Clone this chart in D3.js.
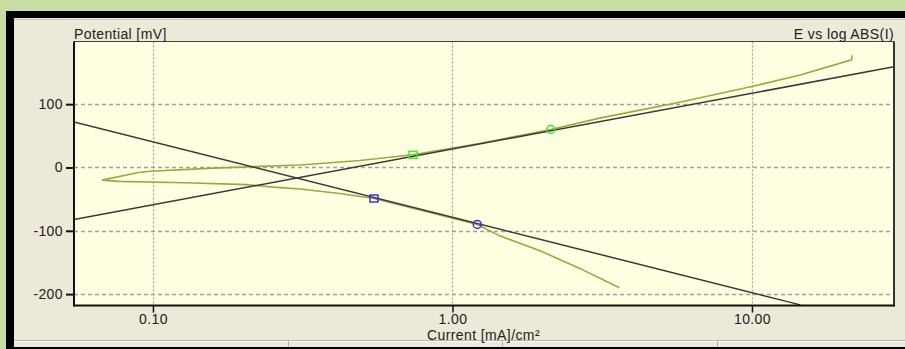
<!DOCTYPE html>
<html>
<head>
<meta charset="utf-8">
<script src="https://cdn.jsdelivr.net/npm/d3@7"></script>
<style>
  body { margin: 0; padding: 0; background: #c8dca4; }
  svg { display: block; }
  text { font-family: "Liberation Sans", Arial, sans-serif; fill: #222; letter-spacing: 0.4px; }
</style>
</head>
<body>
<svg id="chart"></svg>
<script>
// measured scan, current in mA/cm2 and potential in mV
const scanCurrent = [3.61, 2.65, 1.95, 1.44, 1.21, 0.84, 0.547, 0.42, 0.31, 0.252, 0.206, 0.128, 0.0766, 0.0676,
                     0.0895, 0.098, 0.159, 0.206, 0.31, 0.491, 0.738, 1.23, 2.13, 3.1, 5.73, 10.0, 14.5, 21.5, 21.6];
const scanPotential = [-190, -159, -131, -108, -90, -71, -49, -41, -34, -31, -27, -24, -22, -20,
                       -8, -6, -1, 1, 4, 11, 20, 38, 60, 78, 103, 128, 146, 170, 177];

// tafel fits
const anodicCurrent = [0.0545, 29.8];
const anodicPotential = [-82, 159];
const cathodicCurrent = [0.0545, 14.5];
const cathodicPotential = [72, -217];

// fit region markers
const anodicMarkCurrent = [0.738, 2.13];
const anodicMarkPotential = [20, 60];
const cathodicMarkCurrent = [0.547, 1.21];
const cathodicMarkPotential = [-49, -90];

const xTicks = [0.1, 1, 10];
const xTickLabels = ['0.10', '1.00', '10.00'];
const yTicks = [100, 0, -100, -200];

const width = 905, height = 349;
const plotLeft = 74, plotRight = 894, plotTop = 41.5, plotBottom = 305.5;

function zipPts(xs, ys) {
    return xs.map((d, i) => [d, ys[i]]);
}

let svg = d3.select('#chart').attr('width', width).attr('height', height);

// window frame
svg.append('rect').attr('x', 6).attr('y', 11).attr('width', width - 6).attr('height', height - 11).attr('fill', '#000');
svg.append('rect').attr('x', 14).attr('y', 18).attr('width', width - 14).attr('height', 329).attr('fill', '#ece9d8');
svg.append('line').attr('x1', 14).attr('x2', width).attr('y1', 19.5).attr('y2', 19.5).attr('stroke', '#c9c6b8');
// status bar
svg.append('line').attr('x1', 14).attr('x2', width).attr('y1', 340.5).attr('y2', 340.5).attr('stroke', '#b8b5a6');
svg.append('line').attr('x1', 14).attr('x2', width).attr('y1', 341.5).attr('y2', 341.5).attr('stroke', '#fff');
[288.5, 502.5, 717.5].forEach((x) => {
    svg.append('line').attr('x1', x).attr('x2', x).attr('y1', 341).attr('y2', 347).attr('stroke', '#b8b5a6');
});

let x = d3.scaleLog().domain([0.0545, 29.8]).range([plotLeft, plotRight]);
let y = d3.scaleLinear().domain([-218, 199]).range([plotBottom, plotTop]);

svg.append('rect')
    .attr('x', plotLeft).attr('y', plotTop)
    .attr('width', plotRight - plotLeft).attr('height', plotBottom - plotTop)
    .attr('fill', '#ffffe2');

svg.append('defs').append('clipPath').attr('id', 'clip')
    .append('rect')
    .attr('x', plotLeft).attr('y', plotTop)
    .attr('width', plotRight - plotLeft).attr('height', plotBottom - plotTop);

// grid
svg.append('g').selectAll('line').data(yTicks).enter()
    .append('line')
    .attr('x1', plotLeft).attr('x2', plotRight)
    .attr('y1', (d) => Math.round(y(d)) + 0.5).attr('y2', (d) => Math.round(y(d)) + 0.5)
    .attr('stroke', '#a0a0a0').attr('stroke-width', 1.3)
    .attr('stroke-dasharray', '4,3');
svg.append('g').selectAll('line').data(xTicks).enter()
    .append('line')
    .attr('x1', (d) => Math.round(x(d)) + 0.5).attr('x2', (d) => Math.round(x(d)) + 0.5)
    .attr('y1', plotTop).attr('y2', plotBottom)
    .attr('stroke', '#a0a0a0').attr('stroke-width', 1.3)
    .attr('stroke-dasharray', '2,2');

let line = d3.line().x((d) => x(d[0])).y((d) => y(d[1]));
let plot = svg.append('g').attr('clip-path', 'url(#clip)');

plot.append('path')
    .datum(zipPts(scanCurrent, scanPotential))
    .attr('d', line)
    .attr('fill', 'none').attr('stroke', '#a4a43a').attr('stroke-width', 1.6);

[[anodicCurrent, anodicPotential], [cathodicCurrent, cathodicPotential]].forEach((fit) => {
    plot.append('path')
        .datum(zipPts(fit[0], fit[1]))
        .attr('d', line)
        .attr('fill', 'none').attr('stroke', '#383838').attr('stroke-width', 1.5);
});

// markers: square at start of fit range, circle at end
function markers(cur, pot, color) {
    let p = zipPts(cur, pot);
    plot.append('rect')
        .attr('x', x(p[0][0]) - 4).attr('y', y(p[0][1]) - 3.5)
        .attr('width', 8).attr('height', 7)
        .attr('fill', 'none').attr('stroke', color).attr('stroke-width', 1.5);
    plot.append('circle')
        .attr('cx', x(p[1][0])).attr('cy', y(p[1][1])).attr('r', 4)
        .attr('fill', 'none').attr('stroke', color).attr('stroke-width', 1.5);
}
markers(anodicMarkCurrent, anodicMarkPotential, '#33ee33');
markers(cathodicMarkCurrent, cathodicMarkPotential, '#3333ee');

// frame of plot
svg.append('line').attr('x1', plotLeft).attr('x2', plotRight).attr('y1', plotTop).attr('y2', plotTop).attr('stroke', '#444').attr('stroke-width', 1);
svg.append('line').attr('x1', plotRight).attr('x2', plotRight).attr('y1', plotTop).attr('y2', plotBottom + 1).attr('stroke', '#333').attr('stroke-width', 2);
svg.append('line').attr('x1', plotLeft).attr('x2', plotLeft).attr('y1', plotTop).attr('y2', plotBottom + 1).attr('stroke', '#111').attr('stroke-width', 2);
svg.append('line').attr('x1', plotLeft - 1).attr('x2', plotRight + 1).attr('y1', plotBottom).attr('y2', plotBottom).attr('stroke', '#111').attr('stroke-width', 2);

// axes
let yAxis = d3.axisLeft(y).tickValues(yTicks).tickSize(7).tickPadding(3).tickFormat((d) => String(d));
let gy = svg.append('g').attr('transform', `translate(${plotLeft - 1},0)`).call(yAxis);
gy.select('.domain').remove();
gy.selectAll('.tick line').attr('stroke', '#111').attr('stroke-width', 2);
gy.selectAll('.tick text').attr('font-size', 14).attr('font-family', '"Liberation Sans", Arial, sans-serif').attr('fill', '#222');

let xAxis = d3.axisBottom(x).tickValues(xTicks).tickSize(7).tickPadding(2).tickFormat((d, i) => xTickLabels[i]);
let gx = svg.append('g').attr('transform', `translate(0,${plotBottom})`).call(xAxis);
gx.select('.domain').remove();
gx.selectAll('.tick line').attr('stroke', '#111').attr('stroke-width', 1.5);
gx.selectAll('.tick text').attr('font-size', 14).attr('font-family', '"Liberation Sans", Arial, sans-serif').attr('fill', '#222');

// titles
svg.append('text').attr('x', plotLeft).attr('y', 38.5).attr('font-size', 14).text('Potential [mV]');
svg.append('text').attr('x', plotRight).attr('y', 38.5).attr('font-size', 14).attr('text-anchor', 'end').text('E vs log ABS(I)');
svg.append('text').attr('x', 427).attr('y', 340).attr('font-size', 14).text('Current [mA]/cm²');
</script>
</body>
</html>
